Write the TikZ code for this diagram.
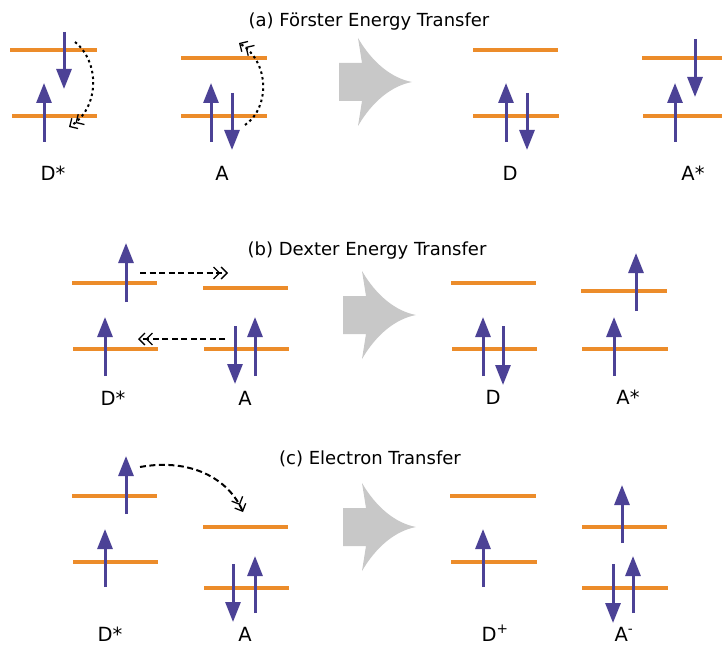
\documentclass[tikz,border=0pt]{standalone}
\usepackage{fontspec}
\setmainfont{DejaVu Sans}
\usepackage{xcolor}
\usetikzlibrary{arrows.meta}
\definecolor{lvorange}{RGB}{236,140,42}
\definecolor{spinpurple}{RGB}{76,66,150}
\definecolor{bigarrow}{RGB}{200,200,200}

\begin{document}
\begin{tikzpicture}[x=1pt, y=-1pt,
  level/.style={draw=lvorange, line width=4pt},
  spin/.style={draw=spinpurple, line width=3pt, -{Triangle[length=20pt, width=15pt]}},
  hop/.style={black, line width=2pt, -{Straight Barb[length=6pt, width=12pt, line width=1.3pt] Straight Barb[length=6pt, width=12pt, line width=1.3pt]}},
  dothop/.style={hop, dash pattern=on 2.5pt off 3.2pt},
  dashhop/.style={hop, dash pattern=on 6pt off 3.5pt},
  title/.style={font=\fontsize{18}{20}\selectfont, anchor=base, inner sep=0pt},
  lab/.style={font=\fontsize{19.5}{22}\selectfont, anchor=base, inner sep=0pt, text depth=0pt}]
\useasboundingbox (0,0) rectangle (722,647);
% titles
\node[title] (ta) at (369,27) {(a) Förster Energy Transfer};
\node[title] (tb) at (367,255) {(b) Dexter Energy Transfer};
\node[title] (tc) at (370,464) {(c) Electron Transfer};
% energy levels
\foreach \xa/\xb/\y in {10/97/50, 12/97/116, 181/267/58, 181/267/116, 473/558/50, 473/559/116, 642/722/58, 643/722/116,
    72/157/283, 73/158/349, 203/288/288, 204/289/349, 451/536/283, 452/537/349, 581/667/291, 582/668/349,
    72/157/496, 73/158/562, 203/288/527, 204/289/588, 450/536/496, 451/537/562, 582/667/527, 582/668/588}
  \draw[level] (\xa,\y) -- (\xb,\y);
% electron spins
\foreach \x/\ya/\yb in {64/32/89, 44/142/83, 211/142/83, 232/93/150, 506/142/83, 527/93/150, 695/39/97, 675/142/83,
    126/302/243, 105/376/317, 235/326/384, 255/376/317, 483/376/317, 503/326/385, 636/311/253, 614/376/317,
    126/514/456, 105/587/529, 233/564/622, 255/613/556, 483/587/529, 622/543/485, 613/564/623, 633/613/556}
  \draw[spin] (\x,\ya) -- (\x,\yb);
% transfer paths
\draw[dothop] (75,42) .. controls (100,62) and (100,108) .. (69,127);
\draw[dothop] (245,125) .. controls (270,108) and (270,62) .. (239,43);
\draw[dashhop] (140,273) -- (228,273);
\draw[dashhop] (225,339) -- (138,339);
\draw[dashhop] (140,467) .. controls (190,458) and (228,478) .. (243,512);
% reaction arrows
\foreach \cx/\cy in {339/82, 343/315, 343/527}
  \fill[bigarrow, shift={(\cx,\cy)}] (0,-19) -- (23,-19) -- (19,-44) .. controls (33,-20) and (52,-4) .. (73,0)
    .. controls (52,4) and (33,20) .. (19,44) -- (23,19) -- (0,19) -- cycle;
% labels
\node[lab] (dsa) at (53,180) {D*};
\node[lab] (aa) at (222,180) {A};
\node[lab] (da) at (510,180) {D};
\node[lab] (asa) at (693,180) {A*};
\node[lab] (dsb) at (113,405) {D*};
\node[lab] (ab) at (245,405) {A};
\node[lab] (db) at (493,404) {D};
\node[lab] (asb) at (628,404) {A*};
\node[lab] (dsc) at (110,641) {D*};
\node[lab] (ac) at (245,641) {A};
\node[lab] (dpc) at (495,641) {D\textsuperscript{+}};
\node[lab] (amc) at (624,641) {A\textsuperscript{-}};
\end{tikzpicture}
\end{document}
